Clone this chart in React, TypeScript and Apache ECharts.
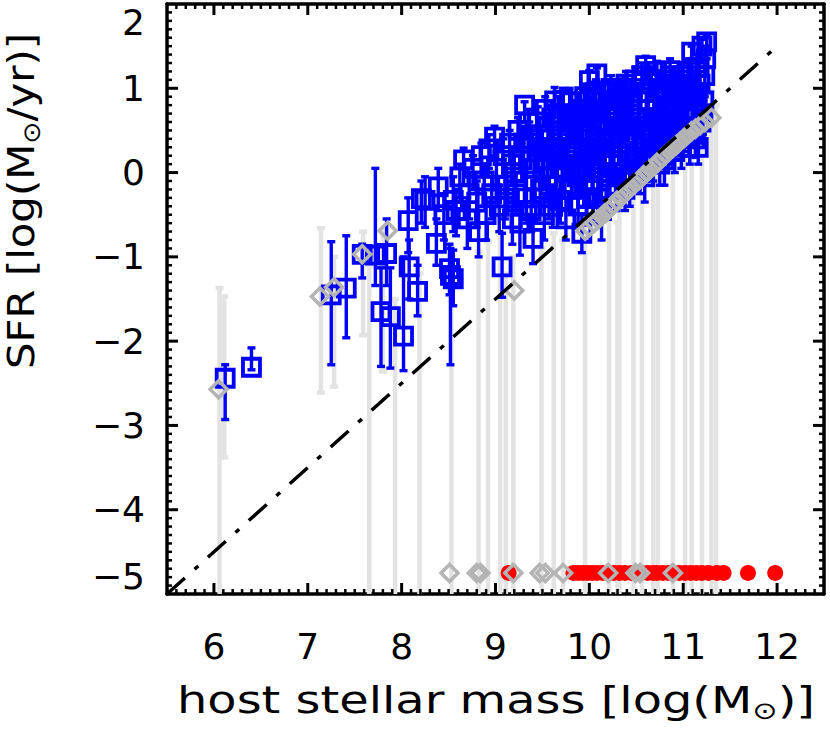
import React, { useEffect, useRef } from "react";
import * as echarts from "echarts";

// ---------- data ----------
const xTickValues = [6, 7, 8, 9, 10, 11, 12];
const yTickValues = [-5, -4, -3, -2, -1, 0, 1, 2];
const xRange = [5.5, 12.5];
const yRange = [-5, 2];

// detected hosts: [log M*, log SFR, lower, upper]
const bluePoints: number[][] = [
  [6.12, -2.44, -2.93, -2.28],
  [6.40, -2.31, -2.34, -2.08],
  [7.25, -1.45, -2.28, -0.82],
  [7.41, -1.37, -1.96, -0.75],
  [7.58, -0.97, -1.25, -0.85],
  [7.72, -0.98, -1.34, 0.05],
  [7.84, -0.96, -1.34, -0.55],
  [7.78, -1.65, -2.30, -1.13],
  [7.88, -1.71, -2.32, -1.13],
  [8.02, -1.94, -2.35, -1.0],
  [8.07, -0.57, -0.95, -0.3],
  [8.08, -1.12, -1.5, -0.8],
  [8.17, -1.41, -1.7, -1.1],
  [8.21, -0.31, -0.6, -0.1],
  [8.25, -0.33, -0.65, -0.05],
  [8.37, -0.84, -1.1, -0.55],
  [8.39, -0.17, -0.45, 0.05],
  [8.45, -0.5, -0.8, -0.25],
  [8.51, -1.14, -1.45, -0.85],
  [8.52, -1.22, -2.28, -0.9],
  [8.55, -1.26, -1.58, -0.92],
  [8.55, -0.33, -0.7, -0.05],
  [8.58, -0.45, -0.75, -0.2],
  [8.62, -0.05, -0.3, 0.1],
  [8.66, 0.15, -0.15, 0.29],
  [8.7, -0.55, -0.9, -0.3],
  [8.72, -0.25, -0.55, 0.0],
  [8.76, 0.05, -0.2, 0.2],
  [8.8, -0.35, -0.65, -0.1],
  [8.82, -0.7, -1.0, -0.45],
  [8.85, 0.2, -0.05, 0.35],
  [8.88, -0.1, -0.4, 0.1],
  [8.9, -0.5, -0.8, -0.3],
  [8.93, 0.28, 0.05, 0.45],
  [8.96, -0.25, -0.55, -0.05],
  [8.99, 0.42, 0.2, 0.55],
  [9.01, 0.05, -0.2, 0.25],
  [9.04, -0.4, -0.7, -0.15],
  [9.07, -1.12, -1.48, -0.72],
  [9.08, 0.2, -0.05, 0.4],
  [9.1, -0.3, -0.55, -0.05],
  [9.12, -0.15, -0.45, 0.05],
  [9.15, 0.35, 0.1, 0.5],
  [9.17, 0.1, -0.15, 0.3],
  [9.18, -0.55, -0.85, -0.3],
  [9.2, 0.0, -0.3, 0.2],
  [9.22, -0.25, -0.5, 0.0],
  [9.24, 0.5, 0.3, 0.65],
  [9.26, -0.6, -0.98, -0.35],
  [9.28, 0.15, -0.1, 0.35],
  [9.3, 0.35, 0.1, 0.55],
  [9.31, 0.8, 0.6, 0.84],
  [9.33, -0.3, -0.6, -0.05],
  [9.35, 0.6, 0.4, 0.75],
  [9.36, 0.4, 0.15, 0.6],
  [9.38, -0.45, -0.7, -0.2],
  [9.4, -0.78, -1.08, -0.5],
  [9.41, -0.1, -0.35, 0.15],
  [9.42, 0.05, -0.2, 0.3],
  [9.44, 0.25, 0.0, 0.45],
  [9.45, 0.6, 0.4, 0.78],
  [9.47, 0.45, 0.2, 0.65],
  [9.48, -0.2, -0.5, 0.05],
  [9.5, 0.3, 0.05, 0.5],
  [9.51, 0.05, -0.2, 0.3],
  [9.52, -0.5, -0.8, -0.25],
  [9.53, 0.75, 0.55, 0.9],
  [9.55, 0.15, -0.1, 0.35],
  [9.56, -0.05, -0.35, 0.2],
  [9.57, -0.3, -0.55, -0.05],
  [9.58, 0.45, 0.2, 0.65],
  [9.6, 0.65, 0.4, 0.85],
  [9.61, -0.4, -0.65, -0.15],
  [9.62, 0.3, 0.05, 0.5],
  [9.63, 0.85, 0.65, 1.01],
  [9.64, -0.15, -0.4, 0.1],
  [9.66, 0.2, -0.05, 0.4],
  [9.67, 0.7, 0.45, 0.9],
  [9.68, 0.4, 0.15, 0.6],
  [9.69, -0.33, -0.6, -0.1],
  [9.7, 0.6, 0.35, 0.8],
  [9.71, 0.05, -0.2, 0.3],
  [9.72, 0.86, 0.65, 1.0],
  [9.74, 0.0, -0.3, 0.25],
  [9.75, -0.55, -0.8, -0.3],
  [9.76, 0.25, 0.0, 0.45],
  [9.77, 0.45, 0.2, 0.65],
  [9.78, 0.15, -0.1, 0.35],
  [9.79, 0.84, 0.6, 1.0],
  [9.8, 0.6, 0.35, 0.8],
  [9.81, -0.2, -0.5, 0.05],
  [9.83, 0.6, 0.35, 0.8],
  [9.84, 0.3, 0.05, 0.5],
  [9.85, 0.0, -0.25, 0.25],
  [9.86, 0.65, 0.4, 0.85],
  [9.87, -0.05, -0.3, 0.2],
  [9.88, -0.39, -0.66, -0.15],
  [9.89, 0.4, 0.15, 0.6],
  [9.9, 0.1, -0.15, 0.35],
  [9.91, 0.75, 0.5, 0.95],
  [9.92, -0.72, -0.95, -0.5],
  [9.93, 0.5, 0.25, 0.7],
  [9.94, -0.15, -0.4, 0.1],
  [9.95, 0.9, 0.7, 1.05],
  [9.96, 0.05, -0.2, 0.3],
  [9.97, -0.31, -0.6, -0.05],
  [9.98, 0.65, 0.4, 0.85],
  [9.99, 0.25, 0.0, 0.45],
  [10.0, 1.09, 0.85, 1.21],
  [10.01, 0.45, 0.2, 0.65],
  [10.02, 0.7, 0.45, 0.9],
  [10.03, 0.15, -0.1, 0.4],
  [10.04, -0.1, -0.4, 0.15],
  [10.05, 0.85, 0.6, 1.05],
  [10.06, 0.4, 0.15, 0.6],
  [10.07, 0.95, 0.7, 1.1],
  [10.08, 1.17, 0.95, 1.24],
  [10.09, -0.3, -0.6, -0.05],
  [10.1, 0.0, -0.3, 0.25],
  [10.11, 0.3, 0.05, 0.5],
  [10.12, 0.6, 0.35, 0.8],
  [10.13, -0.45, -0.8, -0.2],
  [10.14, 0.3, 0.05, 0.5],
  [10.15, 0.85, 0.6, 1.05],
  [10.16, 0.5, 0.25, 0.7],
  [10.17, 0.2, -0.05, 0.45],
  [10.18, 0.7, 0.45, 0.9],
  [10.19, -0.2, -0.5, 0.05],
  [10.2, 0.95, 0.7, 1.1],
  [10.21, 0.5, 0.25, 0.7],
  [10.22, -0.05, -0.3, 0.2],
  [10.23, 1.0, 0.8, 1.15],
  [10.24, 0.3, 0.05, 0.5],
  [10.25, 0.1, -0.15, 0.35],
  [10.26, 0.45, 0.2, 0.65],
  [10.27, 0.7, 0.45, 0.9],
  [10.28, 0.85, 0.6, 1.05],
  [10.29, -0.15, -0.45, 0.1],
  [10.3, 0.75, 0.5, 0.95],
  [10.31, 0.35, 0.1, 0.55],
  [10.32, 0.55, 0.3, 0.75],
  [10.33, 0.9, 0.65, 1.1],
  [10.34, 0.2, -0.05, 0.4],
  [10.35, 0.0, -0.3, 0.25],
  [10.36, 1.0, 0.8, 1.15],
  [10.37, 0.6, 0.35, 0.8],
  [10.38, -0.2, -0.45, 0.05],
  [10.39, 1.05, 0.85, 1.2],
  [10.4, 0.4, 0.15, 0.6],
  [10.41, 0.25, 0.0, 0.45],
  [10.42, 0.55, 0.3, 0.75],
  [10.43, -0.1, -0.4, 0.15],
  [10.44, 0.7, 0.45, 0.9],
  [10.45, 0.8, 0.55, 1.0],
  [10.46, 0.95, 0.7, 1.1],
  [10.47, 0.45, 0.2, 0.65],
  [10.48, 0.15, -0.1, 0.4],
  [10.49, 1.1, 0.9, 1.25],
  [10.5, 0.35, 0.1, 0.55],
  [10.51, 0.1, -0.2, 0.35],
  [10.52, 0.85, 0.6, 1.05],
  [10.53, 0.65, 0.4, 0.85],
  [10.54, 0.0, -0.25, 0.25],
  [10.55, 0.95, 0.75, 1.1],
  [10.56, 1.15, 0.95, 1.3],
  [10.57, 0.3, 0.05, 0.5],
  [10.58, 0.55, 0.3, 0.75],
  [10.59, -0.05, -0.35, 0.2],
  [10.6, 1.27, 1.05, 1.38],
  [10.61, 0.2, -0.05, 0.4],
  [10.62, 0.75, 0.5, 0.95],
  [10.63, 0.95, 0.7, 1.15],
  [10.64, 0.5, 0.25, 0.7],
  [10.65, 0.35, 0.1, 0.55],
  [10.66, 1.1, 0.9, 1.25],
  [10.67, 0.35, 0.1, 0.55],
  [10.68, 0.2, -0.1, 0.45],
  [10.69, 0.65, 0.4, 0.85],
  [10.7, 0.85, 0.6, 1.05],
  [10.71, 0.6, 0.35, 0.8],
  [10.72, 1.2, 1.0, 1.32],
  [10.73, 1.0, 0.8, 1.15],
  [10.74, 0.4, 0.15, 0.6],
  [10.75, 0.1, -0.15, 0.35],
  [10.76, 0.65, 0.4, 0.85],
  [10.77, 0.3, 0.05, 0.5],
  [10.78, 1.0, 0.8, 1.15],
  [10.79, 0.45, 0.2, 0.65],
  [10.8, 0.15, -0.15, 0.4],
  [10.81, 1.1, 0.9, 1.25],
  [10.82, 0.9, 0.65, 1.1],
  [10.83, 0.75, 0.5, 0.95],
  [10.84, 0.55, 0.3, 0.75],
  [10.85, 0.4, 0.15, 0.6],
  [10.86, 1.21, 1.0, 1.35],
  [10.87, 1.0, 0.8, 1.15],
  [10.88, 0.35, 0.1, 0.55],
  [10.89, 0.6, 0.35, 0.8],
  [10.9, 0.75, 0.5, 0.95],
  [10.91, 0.25, 0.0, 0.45],
  [10.92, 1.05, 0.85, 1.2],
  [10.93, 0.85, 0.6, 1.05],
  [10.94, 0.5, 0.25, 0.7],
  [10.95, 0.65, 0.4, 0.85],
  [10.96, 0.95, 0.7, 1.15],
  [10.97, 1.15, 0.95, 1.3],
  [10.98, 0.3, 0.05, 0.5],
  [10.99, 0.85, 0.6, 1.05],
  [11.0, 1.15, 0.95, 1.3],
  [11.01, 0.5, 0.25, 0.7],
  [11.02, 0.65, 0.4, 0.85],
  [11.03, 1.0, 0.8, 1.15],
  [11.04, 0.85, 0.6, 1.05],
  [11.05, 1.2, 1.0, 1.35],
  [11.06, 0.45, 0.2, 0.65],
  [11.07, 0.3, 0.1, 0.5],
  [11.08, 1.1, 0.9, 1.25],
  [11.09, 1.43, 1.2, 1.5],
  [11.1, 0.55, 0.3, 0.75],
  [11.11, 0.7, 0.45, 0.9],
  [11.12, 0.95, 0.7, 1.15],
  [11.13, 0.4, 0.18, 0.6],
  [11.14, 0.75, 0.5, 0.95],
  [11.15, 0.95, 0.7, 1.15],
  [11.16, 0.3, 0.1, 0.5],
  [11.17, 1.25, 1.05, 1.4],
  [11.18, 1.05, 0.85, 1.2],
  [11.19, 0.6, 0.35, 0.8],
  [11.2, 1.5, 1.3, 1.58],
  [11.21, 0.7, 0.45, 0.9],
  [11.22, 0.85, 0.6, 1.05],
  [11.23, 1.15, 0.9, 1.35],
  [11.24, 1.35, 1.15, 1.5],
  [11.25, 1.55, 1.35, 1.62],
];

// grey (limits) range bars: [log M*, lower, upper]
const greyBars: number[][] = [
  [6.06, -5, -1.37],
  [6.11, -3.38, -1.47],
  [7.14, -2.61, -0.66],
  [7.28, -2.54, -1.0],
  [7.59, -1.93, -0.7],
  [7.655, -5, -1.1],
  [7.8, -2.36, -0.69],
  [7.93, -5, -1.5],
  [8.19, -5, -1.2],
  [8.53, -5, -1.0],
  [8.82, -5, -0.94],
  [8.92, -5, -0.82],
  [9.05, -5, -0.72],
  [9.11, -5, -1.2],
  [9.19, -5, -1.0],
  [9.49, -5, -0.9],
  [9.62, -5, -0.72],
  [9.72, -5, -0.8],
  [9.955, -5, -0.5],
  [10.21, -5, -0.3],
  [10.3, -5, -0.59],
  [10.32, -5, -0.2],
  [10.47, -5, 0.0],
  [10.56, -5, 0.1],
  [10.68, -5, 0.2],
  [10.73, -5, 0.3],
  [10.89, -5, 0.4],
  [11.02, -5, 1.0],
  [11.09, -5, 0.6],
  [11.2, -5, 0.7],
  [11.3, -5, 0.97],
  [11.35, -5, 0.8],
];

// grey diamonds: [log M*, log SFR]
const greyDiamonds: number[][] = [
  [6.05, -2.57],
  [7.13, -1.47],
  [7.28, -1.36],
  [7.58, -0.97],
  [7.85, -0.69],
  [9.2, -1.4],
  [9.955, -0.69],
  [10.0, -0.65],
  [10.05, -0.6],
  [10.09, -0.56],
  [10.13, -0.52],
  [10.17, -0.48],
  [10.21, -0.44],
  [10.25, -0.39],
  [10.29, -0.34],
  [10.33, -0.3],
  [10.37, -0.26],
  [10.41, -0.21],
  [10.45, -0.17],
  [10.49, -0.13],
  [10.53, -0.09],
  [10.57, -0.04],
  [10.61, 0.0],
  [10.65, 0.04],
  [10.69, 0.08],
  [10.73, 0.12],
  [10.77, 0.17],
  [10.81, 0.21],
  [10.85, 0.25],
  [10.89, 0.29],
  [10.93, 0.33],
  [10.97, 0.37],
  [11.01, 0.41],
  [11.05, 0.45],
  [11.09, 0.49],
  [11.13, 0.52],
  [11.18, 0.56],
  [11.23, 0.6],
  [11.3, 0.65],
];

// objects placed at the bottom row (no SFR measurement)
const bottomLevel = -4.75;
const bottomGreyMass = [8.51, 8.8, 8.84, 9.19, 9.47, 9.53, 9.72, 10.2, 10.49, 10.54, 10.89];
const bottomRedMass = [
  9.14, 9.83, 9.88, 9.93, 9.98, 10.03, 10.08, 10.14, 10.2, 10.26, 10.32, 10.38, 10.45,
  10.55, 10.62, 10.68, 10.72, 10.78, 10.84, 10.9, 10.96, 11.02, 11.08, 11.14, 11.2,
  11.27, 11.36, 11.43, 11.69, 11.98,
];

// reference line
const refLine = [
  [5.5, -5],
  [12, 1.5],
];

// ---------- chart ----------
const FONT = "DejaVu Sans";
const MAJOR_LEN = 11;
const MINOR_LEN = 5;

function minorValues(range: number[], majors: number[]): number[] {
  const out: number[] = [];
  for (let i = Math.round(range[0] * 10) + 1; i < Math.round(range[1] * 10); i++) {
    const v = i / 10;
    if (majors.indexOf(v) < 0) out.push(v);
  }
  return out;
}

function errorBarRenderer(color: string, width: number, cap: number) {
  return (params: any, api: any) => {
    const x = api.value(0);
    const lo = api.value(1);
    const hi = api.value(2);
    const p1 = api.coord([x, lo]);
    const p2 = api.coord([x, hi]);
    const style = { stroke: color, lineWidth: width };
    const children: any[] = [
      { type: "line", shape: { x1: p1[0], y1: p1[1], x2: p2[0], y2: p2[1] }, style },
      { type: "line", shape: { x1: p2[0] - cap, y1: p2[1], x2: p2[0] + cap, y2: p2[1] }, style },
    ];
    if (lo > yRange[0]) {
      children.push({
        type: "line",
        shape: { x1: p1[0] - cap, y1: p1[1], x2: p1[0] + cap, y2: p1[1] },
        style,
      });
    }
    return { type: "group", children };
  };
}

const fmtNum = (v: number) => {
  const r = Math.round(v);
  return r < 0 ? "\u2212" + Math.abs(r) : String(r);
};

export default function App() {
  const ref = useRef<HTMLDivElement>(null);
  useEffect(() => {
    if (!ref.current) return;
    const chart = echarts.init(ref.current, undefined, { renderer: "svg" });

    const axisLineStyle = { color: "#000", width: 3.5 };
    const titleRich = {
      a: { fontSize: 38, fontFamily: FONT, fill: "#000", lineHeight: 46 },
      s: { fontSize: 24, fontFamily: FONT, fill: "#000", lineHeight: 24, verticalAlign: "bottom" },
    };
    const titles: any[] = [
      {
        type: "text",
        id: "xtitle",
        x: 496,
        y: 700,
        scaleX: 1.26,
        style: {
          text: "{a|host stellar mass [log(M}{s|\u2299}{a|)]}",
          align: "center",
          verticalAlign: "middle",
          fill: "#000",
          rich: titleRich,
        },
      },
      {
        type: "text",
        id: "ytitle",
        x: 21,
        y: 201,
        rotation: Math.PI / 2,
        scaleX: 1.1,
        style: {
          text: "{a|SFR [log(M}{s|\u2299}{a|/yr)]}",
          align: "center",
          verticalAlign: "middle",
          fill: "#000",
          rich: titleRich,
        },
      },
    ];

    const option: any = {
      animation: false,
      backgroundColor: "#fff",
      grid: { left: 167, top: 4, width: 657, height: 590 },
      xAxis: [
        {
          type: "value",
          position: "bottom",
          min: xRange[0],
          max: xRange[1],
          interval: 0.5,
          axisLine: { show: true, onZero: false, lineStyle: axisLineStyle },
          axisTick: { show: false },
          axisLabel: {
            customValues: xTickValues,
            margin: 34,
            fontSize: 36,
            fontFamily: FONT,
            color: "#000",
            formatter: fmtNum,
          },
          splitLine: { show: false },
        },
        {
          type: "value",
          position: "top",
          min: xRange[0],
          max: xRange[1],
          interval: 0.5,
          axisLine: { show: true, onZero: false, lineStyle: axisLineStyle },
          axisTick: { show: false },
          axisLabel: { show: false },
          splitLine: { show: false },
        },
      ],
      yAxis: [
        {
          type: "value",
          position: "left",
          min: yRange[0],
          max: yRange[1],
          interval: 1,
          axisLine: { show: true, onZero: false, lineStyle: axisLineStyle },
          axisTick: { show: false },
          axisLabel: {
            margin: 22,
            fontSize: 36,
            fontFamily: FONT,
            color: "#000",
            formatter: fmtNum,
            verticalAlignMaxLabel: "top",
            verticalAlignMinLabel: "bottom",
          },
          splitLine: { show: false },
        },
        {
          type: "value",
          position: "right",
          min: yRange[0],
          max: yRange[1],
          interval: 1,
          axisLine: { show: true, onZero: false, lineStyle: axisLineStyle },
          axisTick: { show: false },
          axisLabel: { show: false },
          splitLine: { show: false },
        },
      ],
      series: [
        {
          type: "custom",
          name: "grey bars",
          xAxisIndex: 0,
          yAxisIndex: 0,
          renderItem: errorBarRenderer("#e3e3e3", 4.5, 4),
          encode: { x: 0, y: [1, 2] },
          data: greyBars,
        },
        {
          type: "line",
          name: "reference",
          xAxisIndex: 0,
          yAxisIndex: 0,
          symbol: "none",
          lineStyle: { color: "#000", width: 3.5, type: [24, 13, 5, 13] },
          data: refLine,
        },
        {
          type: "custom",
          name: "blue bars",
          xAxisIndex: 0,
          yAxisIndex: 0,
          renderItem: errorBarRenderer("#0000ff", 3.4, 4),
          encode: { x: 0, y: [1, 2] },
          data: bluePoints.map((p) => [p[0], p[2], p[3]]),
        },
        {
          type: "scatter",
          name: "detections",
          xAxisIndex: 0,
          yAxisIndex: 0,
          symbol: "rect",
          symbolSize: 17,
          itemStyle: { color: "rgba(0,0,0,0)", borderColor: "#0000ff", borderWidth: 3.8, opacity: 1 },
          data: bluePoints.map((p) => [p[0], p[1]]),
        },
        {
          type: "scatter",
          name: "no SFR",
          xAxisIndex: 0,
          yAxisIndex: 0,
          symbol: "circle",
          symbolSize: 16,
          itemStyle: { color: "#ff0000", opacity: 1 },
          data: bottomRedMass.map((m) => [m, bottomLevel]),
        },
        {
          type: "scatter",
          name: "limits",
          xAxisIndex: 0,
          yAxisIndex: 0,
          symbol: "rect",
          symbolSize: 12,
          symbolRotate: 45,
          itemStyle: { color: "rgba(0,0,0,0)", borderColor: "#b4b4b4", borderWidth: 3.5, opacity: 1 },
          data: greyDiamonds.concat(bottomGreyMass.map((m) => [m, bottomLevel])),
        },
      ],
      graphic: { elements: titles },
    };
    chart.setOption(option);

    // tick marks on all four sides, positioned through the axes' scales
    const ticks: any[] = [];
    try {
      const finder = { xAxisIndex: 0, yAxisIndex: 0 };
      const toPx = (v: number[]) => chart.convertToPixel(finder as any, v) as number[];
      const addX = (vals: number[], len: number, w: number) => {
        vals.forEach((v) => {
          const pb = toPx([v, yRange[0]]);
          const pt = toPx([v, yRange[1]]);
          const style = { stroke: "#000", lineWidth: w };
          ticks.push({ type: "line", silent: true, z: 100, shape: { x1: pb[0], y1: pb[1], x2: pb[0], y2: pb[1] - len }, style });
          ticks.push({ type: "line", silent: true, z: 100, shape: { x1: pt[0], y1: pt[1], x2: pt[0], y2: pt[1] + len }, style });
        });
      };
      const addY = (vals: number[], len: number, w: number) => {
        vals.forEach((v) => {
          const pl = toPx([xRange[0], v]);
          const pr = toPx([xRange[1], v]);
          const style = { stroke: "#000", lineWidth: w };
          ticks.push({ type: "line", silent: true, z: 100, shape: { x1: pl[0], y1: pl[1], x2: pl[0] + len, y2: pl[1] }, style });
          ticks.push({ type: "line", silent: true, z: 100, shape: { x1: pr[0], y1: pr[1], x2: pr[0] - len, y2: pr[1] }, style });
        });
      };
      addX(xTickValues, MAJOR_LEN, 3);
      addX(minorValues(xRange, xTickValues), MINOR_LEN, 2.5);
      addY(yTickValues.filter((v) => v > yRange[0] && v < yRange[1]), MAJOR_LEN, 3);
      addY(minorValues(yRange, yTickValues), MINOR_LEN, 2.5);
    } catch (e) {
      // leave ticks out if conversion fails
    }
    if (ticks.length) {
      chart.setOption({ graphic: { elements: titles.concat(ticks) } });
    }
    return () => chart.dispose();
  }, []);
  return <div ref={ref} style={{ width: 830, height: 737, position: "absolute", left: 0, top: 0 }} />;
}
